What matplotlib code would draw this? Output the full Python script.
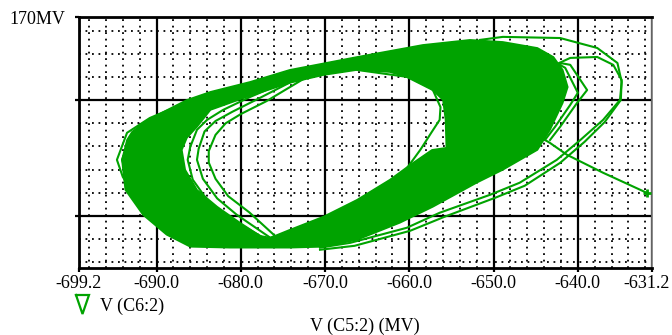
import matplotlib
matplotlib.use('Agg')
import matplotlib.pyplot as plt
import matplotlib.transforms as mtransforms
from matplotlib.path import Path
from matplotlib.patches import PathPatch
from matplotlib.lines import Line2D
import numpy as np

plt.rcParams['font.family'] = ['Liberation Serif', 'DejaVu Serif']

# axis layout (PSpice-like probe window)
x_lo, x_hi = -699.2, -631.2
y_lo, y_hi = 61.4, 170.0
x_ticks = [-699.2, -690.0, -680.0, -670.0, -660.0, -650.0, -640.0, -631.2]
x_labels = ['-699.2', '-690.0', '-680.0', '-670.0', '-660.0', '-650.0', '-640.0', '-631.2']
x_minor = list(range(-698, -631, 2))
y_major = [84, 134, 170]
y_labels = ['', '', '170MV']
y_minor = list(range(64, 170, 10))

# dense band of overlapping loops: outer edge and inner hole, V(C5:2) vs V(C6:2)
band_outer_x = [-694.1, -693.5, -692.9, -691.4, -689.9, -686.4, -683.6, -678.9, -674.2, -666.2,
                -658.4, -652.8, -648.9, -644.8, -642.9, -641.8, -641.2, -641.8, -643.3, -644.8,
                -648.9, -652.0, -657.2, -661.1, -666.2, -670.2, -674.2, -681.3, -686.0, -688.8,
                -691.6, -693.7]
band_outer_y = [108.2, 116.8, 120.3, 124.6, 127.6, 134.1, 137.6, 141.9, 147.1, 152.7,
                157.9, 160.1, 159.2, 156.6, 152.7, 147.1, 139.7, 132.8, 121.2, 112.5,
                103.9, 98.3, 87.9, 81.0, 73.6, 70.6, 70.2, 70.2, 70.6, 75.8,
                84.4, 95.2]
hole_x = [-674.2, -670.2, -666.2, -662.3, -659.9, -657.5, -656.0, -655.7, -655.6, -657.3,
          -659.9, -662.3, -666.2, -670.2, -674.2, -676.5, -677.7, -680.1, -682.8, -685.2,
          -686.6, -687.0, -686.4, -685.2, -683.6, -679.3]
hole_y = [141.5, 144.9, 147.1, 146.2, 143.6, 139.3, 134.1, 125.5, 113.4, 112.5,
          106.0, 99.6, 90.9, 83.6, 77.9, 74.5, 75.3, 81.0, 87.9, 95.2,
          103.9, 112.5, 117.7, 122.5, 129.8, 135.4]

# single loops that stand apart from the band
loop_a_x = [-686.6, -690.8, -693.5, -694.7, -694.0, -691.7, -689.9, -687.8]
loop_a_y = [132.8, 126.3, 119.9, 108.2, 100.8, 87.9, 81.0, 74.9]
loop_b_x = [-686.3, -690.2, -692.9, -694.1, -693.4, -691.2, -689.5]
loop_b_y = [131.5, 125.5, 119.0, 108.2, 100.8, 88.5, 82.0]
loop_c_x = [-673.0, -678.9, -682.1, -684.0, -685.2, -686.0, -686.3, -685.7, -684.0, -681.6, -676.9, -676.2]
loop_c_y = [144.5, 135.4, 129.8, 125.5, 121.2, 113.8, 108.2, 99.6, 90.9, 83.6, 73.6, 74.9]
loop_d_x = [-672.5, -678.0, -681.0, -683.0, -684.3, -685.0, -685.2, -684.5, -682.8, -680.5, -676.5]
loop_d_y = [144.8, 134.5, 129.0, 125.0, 120.5, 113.0, 108.2, 100.0, 91.5, 84.5, 74.5]
loop_e_x = [-671.5, -677.0, -680.0, -681.8, -683.0, -683.8, -683.8, -683.0, -681.5, -679.0, -676.0]
loop_e_y = [145.5, 133.5, 128.0, 124.0, 119.0, 112.0, 107.0, 100.0, 92.5, 85.5, 75.5]
loop_f_x = [-666.2, -660.3, -657.2, -656.3, -656.4, -657.4, -658.7, -661.0]
loop_f_y = [147.1, 144.1, 138.4, 131.0, 125.5, 119.9, 112.5, 101.0]
loop_g_x = [-651.6, -648.9, -642.1, -637.7, -635.3, -634.8, -635.0, -637.0, -639.7, -642.5,
            -646.9, -650.4, -656.4, -660.3, -667.0, -670.6]
loop_g_y = [160.1, 161.4, 160.9, 156.6, 150.1, 141.9, 134.1, 125.5, 116.8, 108.2,
            98.3, 93.1, 85.3, 78.8, 72.3, 70.2]
loop_h_x = [-644.0, -640.9, -637.7, -635.8, -634.8, -634.9, -636.8, -639.2, -642.1, -646.3,
            -649.8, -655.8, -659.9, -666.5, -670.6]
loop_h_y = [147.1, 152.3, 152.7, 149.3, 142.8, 134.1, 124.6, 116.0, 106.9, 97.0,
            91.8, 83.6, 77.5, 71.0, 69.3]
loop_i_x = [-642.1, -640.9, -638.9, -640.1, -642.1, -643.3]
loop_i_y = [150.1, 149.3, 138.4, 132.8, 122.5, 116.8]
loop_j_x = [-642.7, -641.5, -640.0, -640.9, -642.7, -643.9]
loop_j_y = [150.5, 148.0, 137.2, 132.0, 122.5, 116.8]
tail_x = [-644.5, -643.3, -641.3, -637.0, -631.8]
tail_y = [118.1, 115.5, 110.4, 102.6, 93.9]

green = '#00a300'

fig = plt.figure(figsize=(6.72, 3.35), dpi=100)
ax = fig.add_axes([79 / 672, 1 - 268 / 335, 573 / 672, 251 / 335])

ax.set_xlim(x_lo, x_hi)
ax.set_ylim(y_lo, y_hi)
ax.set_xticks(x_ticks)
ax.set_xticklabels(x_labels)
ax.set_xticks(x_minor, minor=True)
ax.set_yticks(y_major)
ax.set_yticklabels(y_labels)
ax.set_yticks(y_minor, minor=True)

ax.set_axisbelow(True)
ax.grid(which='minor', color='black', linestyle=(0, (1, 2.6)), linewidth=1.3)
ax.grid(which='major', color='black', linestyle='-', linewidth=1.6)
ax.tick_params(which='minor', length=0)
ax.tick_params(which='major', direction='out', length=3, width=1.6,
               labelsize=13, pad=2, colors='black')
ax.tick_params(axis='y', pad=7)
for s in ['left', 'bottom', 'top']:
    ax.spines[s].set_linewidth(2)
ax.spines['right'].set_linewidth(1.2)
ax.spines['right'].set_color('#777777')

# last x label sits a little left so it stays inside the picture
last = ax.get_xticklabels()[-1]
last.set_transform(last.get_transform() +
                   mtransforms.ScaledTranslation(-5 / 100, 0, fig.dpi_scale_trans))

# band with hole
outer = np.column_stack([band_outer_x, band_outer_y])
inner = np.column_stack([hole_x, hole_y])[::-1]
verts = np.concatenate([outer, outer[:1], inner, inner[:1]])
codes = ([Path.MOVETO] + [Path.LINETO] * (len(outer) - 1) + [Path.CLOSEPOLY] +
         [Path.MOVETO] + [Path.LINETO] * (len(inner) - 1) + [Path.CLOSEPOLY])
ax.add_patch(PathPatch(Path(verts, codes), facecolor=green, edgecolor=green,
                       linewidth=1.2, zorder=2))

loops = [(loop_a_x, loop_a_y), (loop_b_x, loop_b_y), (loop_c_x, loop_c_y),
         (loop_d_x, loop_d_y), (loop_e_x, loop_e_y), (loop_f_x, loop_f_y),
         (loop_g_x, loop_g_y), (loop_h_x, loop_h_y), (loop_i_x, loop_i_y),
         (loop_j_x, loop_j_y)]
for lx, ly in loops:
    ax.plot(lx, ly, color=green, linewidth=1.5, zorder=3)
ax.plot(tail_x, tail_y, color=green, linewidth=1.5, zorder=3)
ax.plot(tail_x[-1:], tail_y[-1:], marker='+', color=green, markersize=6,
        markeredgewidth=2, zorder=3, clip_on=False)

# legend glyph: narrow open triangle pointing down
tri = Line2D([76 / 672, 89 / 672, 82.5 / 672, 76 / 672],
             [1 - 295 / 335, 1 - 295 / 335, 1 - 314 / 335, 1 - 295 / 335],
             transform=fig.transFigure, color=green, linewidth=1.6,
             solid_joinstyle='miter')
fig.add_artist(tri)
fig.text(100 / 672, 1 - 306 / 335, 'V (C6:2)', fontsize=13, ha='left', va='center')
fig.text(365 / 672, 1 - 326 / 335, 'V (C5:2) (MV)', fontsize=13, ha='center', va='center')

fig.savefig('out.png', dpi=100)
